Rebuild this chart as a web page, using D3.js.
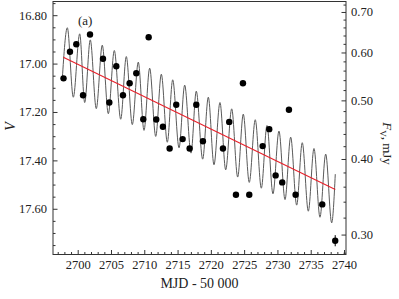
<!DOCTYPE html>
<html>
<head>
<meta charset="utf-8">
<script src="https://cdn.jsdelivr.net/npm/d3@7"></script>
<style>
  body { margin: 0; background: #fff; }
  text { font-family: "Liberation Serif", "DejaVu Serif", serif; fill: #222; }
</style>
</head>
<body>
<div id="graph_box"></div>
<script>
// observed points, MJD - 50000 and V magnitude
const obsMJD = [2697.87, 2698.84, 2699.79, 2700.80, 2701.85, 2703.80, 2704.75, 2705.80, 2706.80, 2707.80,
  2708.80, 2709.85, 2710.66, 2711.80, 2712.80, 2713.81, 2714.80, 2715.76, 2716.81, 2717.81,
  2718.81, 2721.82, 2722.76, 2723.77, 2724.82, 2725.77, 2727.78, 2728.77, 2729.73, 2730.72,
  2731.73, 2732.73, 2736.73, 2738.68];
const obsV = [17.061, 16.951, 16.920, 17.131, 16.880, 16.980, 17.161, 17.011, 17.131, 17.081,
  17.040, 17.230, 16.891, 17.231, 17.261, 17.351, 17.170, 17.312, 17.351, 17.170,
  17.321, 17.351, 17.241, 17.542, 17.081, 17.542, 17.341, 17.271, 17.462, 17.491,
  17.191, 17.542, 17.582, 17.732];
const obsErr = [0.01, 0.01, 0.01, 0.01, 0.01, 0.01, 0.01, 0.01, 0.01, 0.01,
  0.01, 0.01, 0.01, 0.01, 0.01, 0.01, 0.01, 0.01, 0.01, 0.01,
  0.01, 0.01, 0.01, 0.01, 0.01, 0.01, 0.01, 0.01, 0.01, 0.01,
  0.01, 0.01, 0.01, 0.023];

// model curve: maxima / minima
const peakMJD = [2698.44, 2700.30, 2701.89, 2703.69, 2705.50, 2707.30, 2709.10, 2710.81, 2712.56, 2714.27,
  2716.07, 2717.81, 2719.62, 2721.37, 2723.13, 2724.87, 2726.67, 2728.43, 2730.23, 2731.99,
  2733.73, 2735.49, 2737.25];
const peakV = [16.852, 16.877, 16.902, 16.924, 16.946, 16.971, 16.994, 17.019, 17.044, 17.067,
  17.089, 17.114, 17.139, 17.161, 17.187, 17.209, 17.232, 17.256, 17.279, 17.304,
  17.327, 17.351, 17.374];
const troughMJD = [2699.34, 2701.05, 2702.79, 2704.60, 2706.46, 2708.20, 2709.96, 2711.72, 2713.46, 2715.22,
  2717.02, 2718.77, 2720.47, 2722.23, 2724.03, 2725.77, 2727.58, 2729.33, 2731.14, 2732.89,
  2734.64, 2736.39, 2738.15];
const troughV = [17.139, 17.161, 17.186, 17.207, 17.230, 17.252, 17.276, 17.301, 17.325, 17.348,
  17.370, 17.395, 17.418, 17.439, 17.469, 17.491, 17.515, 17.538, 17.562, 17.585,
  17.610, 17.635, 17.658];
const curveEndMJD = [2697.69, 2738.69];
const curveEndV = [17.062, 17.457];

// linear trend
const trendMJD = [2697.84, 2738.69];
const trendV = [16.974, 17.520];

const xTicks = [2700, 2705, 2710, 2715, 2720, 2725, 2730, 2735, 2740];
const vTicks = [16.80, 17.00, 17.20, 17.40, 17.60];
const fTicks = [0.30, 0.40, 0.50, 0.60, 0.70];

// flux 0.50 mJy corresponds to V = 17.152
const refFlux = 0.5, refV = 17.152;

const W = 399, H = 299;
const margin = { top: 1.5, right: 53, bottom: 44.5, left: 53 };
const width = W - margin.left - margin.right,
  height = H - margin.top - margin.bottom;

const svg = d3.select("#graph_box")
  .append("svg")
  .attr("width", W)
  .attr("height", H)
  .append("g")
  .attr("transform", `translate(${margin.left},${margin.top})`);

const x = d3.scaleLinear().domain([2696.29, 2740.30]).range([0, width]);
const y = d3.scaleLinear().domain([16.7434, 17.789]).range([0, height]);
const toFlux = v => refFlux * Math.pow(10, -0.4 * (v - refV));
const yF = d3.scaleLog().domain([toFlux(17.789), toFlux(16.7434)]).range([height, 0]);

// model curve
const curvePts = [];
curvePts.push([curveEndMJD[0], curveEndV[0]]);
peakMJD.forEach((m, i) => curvePts.push([m, peakV[i]]));
troughMJD.forEach((m, i) => curvePts.push([m, troughV[i]]));
curvePts.push([curveEndMJD[1], curveEndV[1]]);
curvePts.sort((a, b) => a[0] - b[0]);

const line = d3.line()
  .x(d => x(d[0]))
  .y(d => y(d[1]))
  .curve(d3.curveMonotoneX);

svg.append("path")
  .datum(curvePts)
  .attr("d", line)
  .attr("fill", "none")
  .attr("stroke", "#5a5a5a")
  .attr("stroke-width", 1);

svg.append("path")
  .datum(trendMJD.map((m, i) => [m, trendV[i]]))
  .attr("d", d3.line().x(d => x(d[0])).y(d => y(d[1])))
  .attr("fill", "none")
  .attr("stroke", "#e8202a")
  .attr("stroke-width", 1.1);

// error bars + points
const obs = obsMJD.map((m, i) => ({ t: m, v: obsV[i], e: obsErr[i] }));
svg.selectAll(".err")
  .data(obs)
  .enter()
  .append("line")
  .attr("class", "err")
  .attr("x1", d => x(d.t)).attr("x2", d => x(d.t))
  .attr("y1", d => y(d.v - d.e)).attr("y2", d => y(d.v + d.e))
  .attr("stroke", "#000")
  .attr("stroke-width", 1);

svg.selectAll(".pt")
  .data(obs)
  .enter()
  .append("circle")
  .attr("class", "pt")
  .attr("cx", d => x(d.t))
  .attr("cy", d => y(d.v))
  .attr("r", 3.2)
  .attr("fill", "#000");

// axes
function style(g) {
  g.select(".domain").remove();
  g.selectAll("line").attr("stroke", "#333");
  g.selectAll("text").style("font-size", "12.5px").style("font-family", "Liberation Serif, serif").attr("fill", "#222");
}

const xMinor = d3.range(2697, 2741, 1).filter(d => d % 5 !== 0);
svg.append("g")
  .attr("transform", `translate(0,${height})`)
  .call(d3.axisBottom(x).tickValues(xTicks).tickFormat(d3.format("d")).tickSize(-4.5).tickPadding(6))
  .call(style);
svg.append("g")
  .attr("transform", `translate(0,${height})`)
  .call(d3.axisBottom(x).tickValues(xMinor).tickFormat("").tickSize(-2.5))
  .call(style);

const vMinor = d3.range(16.75, 17.78, 0.05).map(d => +d.toFixed(2)).filter(d => Math.round(d * 100) % 20 !== 0);
svg.append("g")
  .call(d3.axisLeft(y).tickValues(vTicks).tickFormat(d3.format(".2f")).tickSize(-4.5).tickPadding(6))
  .call(style);
svg.append("g")
  .call(d3.axisLeft(y).tickValues(vMinor).tickFormat("").tickSize(-2.5))
  .call(style);

const fMinor = d3.range(0.28, 0.73, 0.02).map(d => +d.toFixed(2)).filter(d => Math.round(d * 100) % 10 !== 0);
svg.append("g")
  .attr("transform", `translate(${width},0)`)
  .call(d3.axisRight(yF).tickValues(fTicks).tickFormat(d3.format(".2f")).tickSize(-4.5).tickPadding(5))
  .call(style);
svg.append("g")
  .attr("transform", `translate(${width},0)`)
  .call(d3.axisRight(yF).tickValues(fMinor).tickFormat("").tickSize(-2.5))
  .call(style);

// frame
svg.append("rect")
  .attr("x", 0).attr("y", 0)
  .attr("width", width).attr("height", height)
  .attr("fill", "none")
  .attr("stroke", "#333")
  .attr("stroke-width", 1);

// labels
svg.append("text")
  .attr("x", 25).attr("y", 23)
  .style("font-size", "13px")
  .text("(a)");

svg.append("text")
  .attr("x", width / 2)
  .attr("y", height + 33)
  .style("text-anchor", "middle")
  .style("font-size", "14px")
  .text("MJD - 50 000");

svg.append("text")
  .attr("transform", `translate(${-38},${125}) rotate(-90)`)
  .style("text-anchor", "middle")
  .style("font-size", "14px")
  .style("font-style", "italic")
  .text("V");

const fl = svg.append("text")
  .attr("transform", `translate(${width + 37},${142}) rotate(90)`)
  .style("text-anchor", "middle")
  .style("font-size", "13px");
fl.append("tspan").style("font-style", "italic").text("F");
fl.append("tspan").attr("dy", 3).style("font-size", "9px").text("V");
fl.append("tspan").attr("dy", -3).text(", mJy");
</script>
</body>
</html>
